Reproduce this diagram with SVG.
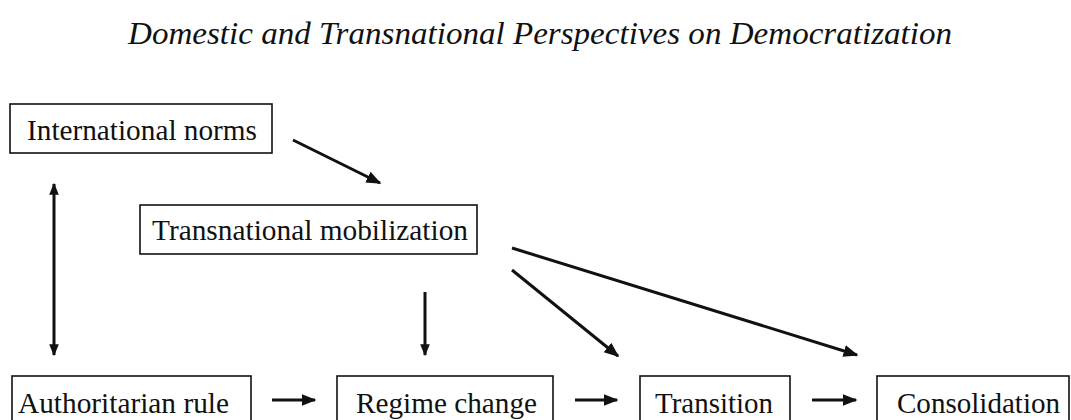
<svg xmlns="http://www.w3.org/2000/svg" width="1071" height="420" viewBox="0 0 1071 420">
<style>
.box{fill:#fff;stroke:#111;stroke-width:1.6}
.lbl{font-family:"Liberation Serif","Times New Roman",serif;font-size:29px;fill:#111}
.title{font-family:"Liberation Serif","Times New Roman",serif;font-style:italic;font-size:31px;fill:#111}
.conn{stroke:#111;stroke-width:3;fill:none}
</style>
<defs>
<marker id="ah" viewBox="0 0 10 10" refX="9" refY="5" markerWidth="5" markerHeight="5" orient="auto-start-reverse" markerUnits="strokeWidth">
<path d="M0,1 L10,5 L0,9 Z" fill="#111"/>
</marker>
<marker id="ahs" viewBox="0 0 10 10" refX="9" refY="5" markerWidth="4" markerHeight="5" orient="auto-start-reverse" markerUnits="strokeWidth">
<path d="M0,1 L10,5 L0,9 Z" fill="#111"/>
</marker>
</defs>
<text class="title" x="128" y="44" textLength="824" lengthAdjust="spacingAndGlyphs">Domestic and Transnational Perspectives on Democratization</text>
<g id="n-intl"><rect class="box" x="10" y="104" width="262" height="49"/><text class="lbl" x="27" y="140" textLength="230" lengthAdjust="spacingAndGlyphs">International norms</text></g>
<g id="n-trans"><rect class="box" x="140" y="205" width="337" height="49"/><text class="lbl" x="152" y="240" textLength="316" lengthAdjust="spacingAndGlyphs">Transnational mobilization</text></g>
<g id="n-auth"><rect class="box" x="12" y="376" width="239" height="60"/><text class="lbl" x="18" y="413" textLength="211" lengthAdjust="spacingAndGlyphs">Authoritarian rule</text></g>
<g id="n-regime"><rect class="box" x="337" y="376" width="216" height="60"/><text class="lbl" x="356" y="413" textLength="181" lengthAdjust="spacingAndGlyphs">Regime change</text></g>
<g id="n-transition"><rect class="box" x="640" y="376" width="150" height="60"/><text class="lbl" x="655" y="413" textLength="118" lengthAdjust="spacingAndGlyphs">Transition</text></g>
<g id="n-consol"><rect class="box" x="877" y="376" width="192" height="60"/><text class="lbl" x="897" y="413" textLength="163" lengthAdjust="spacingAndGlyphs">Consolidation</text></g>
<g id="connectors">
<line class="conn" x1="293" y1="140" x2="380" y2="183" marker-end="url(#ah)"/>
<line class="conn" x1="54" y1="184" x2="54" y2="355" stroke-width="2.4" marker-start="url(#ahs)" marker-end="url(#ahs)"/>
<line class="conn" x1="425" y1="292" x2="425" y2="355" stroke-width="2.4" marker-end="url(#ahs)"/>
<line class="conn" x1="512" y1="270" x2="618" y2="356" marker-end="url(#ah)"/>
<line class="conn" x1="512" y1="248" x2="857" y2="355" marker-end="url(#ah)"/>
<line class="conn" x1="272" y1="400" x2="315" y2="400" marker-end="url(#ah)"/>
<line class="conn" x1="575" y1="400" x2="617" y2="400" marker-end="url(#ah)"/>
<line class="conn" x1="812" y1="400" x2="856" y2="400" marker-end="url(#ah)"/>
</g>
</svg>
